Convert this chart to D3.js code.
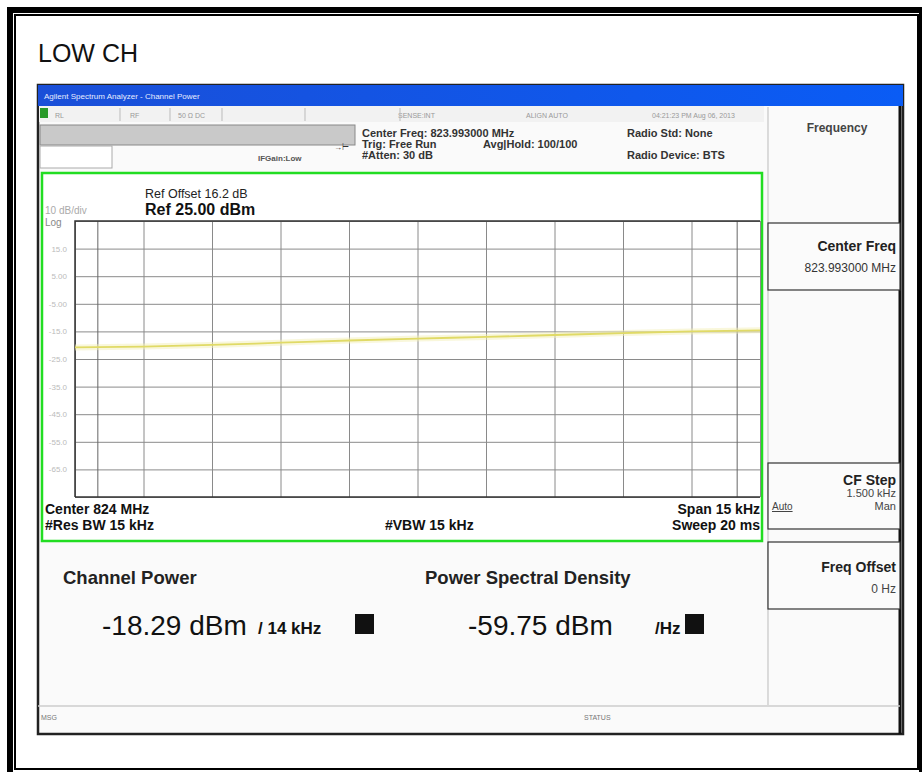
<!DOCTYPE html>
<html><head><meta charset="utf-8">
<script src="https://cdn.jsdelivr.net/npm/d3@7"></script>
<style>html,body{margin:0;padding:0;background:#fff}svg{display:block}</style>
</head><body>
<script>
// ---- data ----
const title = "LOW CH";
const refLevel = 25;          // dBm (top of graticule)
const dbPerDiv = 10;
const divisions = 10;
const spanKHz = 15;
const channelBwKHz = 14;
const yTickLabels = ["15.0","5.00","-5.00","-15.0","-25.0","-35.0","-45.0","-55.0","-65.0"];
const yTickValues = [15,5,-5,-15,-25,-35,-45,-55,-65];
const traceFreqKHz = [-7.5,-6.0,-4.5,-3.0,-1.5,0,1.5,3.0,4.5,6.0,7.5];
const traceDbm     = [-20.8,-20.5,-19.9,-19.1,-18.3,-17.6,-17.0,-16.3,-15.6,-15.0,-14.6];
const channelPower = "-18.29 dBm";
const channelPowerBw = "/ 14 kHz";
const psd = "-59.75 dBm";
const psdUnit = "/Hz";

const W = 922, H = 772;
const svg = d3.select("body").append("svg").attr("width", W).attr("height", H)
  .style("font-family", "Arial, 'Liberation Sans', sans-serif");

// outer frames
svg.append("rect").attr("x",0).attr("y",0).attr("width",W).attr("height",H).attr("fill","#fff");
svg.append("rect").attr("x",10).attr("y",10).attr("width",W-10).attr("height",H+20)
  .attr("fill","none").attr("stroke","#000").attr("stroke-width",6);
svg.append("rect").attr("x",15).attr("y",15).attr("width",W-19).attr("height",H-18)
  .attr("fill","none").attr("stroke","#000").attr("stroke-width",2);

svg.append("text").attr("x",38).attr("y",62).attr("font-size",25).attr("fill","#111").text(title);

// screenshot frame
const sx0 = 38, sx1 = 903, sy0 = 85, sy1 = 734;
svg.append("rect").attr("x",sx0).attr("y",sy0).attr("width",sx1-sx0).attr("height",sy1-sy0)
  .attr("fill","#fafafa").attr("stroke","#222").attr("stroke-width",2.5);

// title bar
const grad = svg.append("defs").append("linearGradient").attr("id","tb").attr("x1",0).attr("x2",1);
grad.append("stop").attr("offset","0%").attr("stop-color","#1a4fd8");
grad.append("stop").attr("offset","100%").attr("stop-color","#0a5cf5");
svg.append("rect").attr("x",sx0).attr("y",sy0).attr("width",sx1-sx0).attr("height",21).attr("fill","url(#tb)");
svg.append("text").attr("x",44).attr("y",99).attr("font-size",8).attr("fill","#e6ecff")
  .text("Agilent Spectrum Analyzer - Channel Power");

// status row
svg.append("rect").attr("x",sx0+1).attr("y",106).attr("width",725).attr("height",16).attr("fill","#f2f2f2");
svg.append("rect").attr("x",40).attr("y",108).attr("width",8).attr("height",10).attr("fill","#2a9a2a");
const row2 = [["RL",55],["RF",130],["50 Ω  DC",178],["SENSE:INT",398],["ALIGN AUTO",526],["04:21:23 PM Aug 06, 2013",652]];
row2.forEach(d=>svg.append("text").attr("x",d[1]).attr("y",118).attr("font-size",7).attr("fill","#999").text(d[0]));
[120,170,222,305,400].forEach(x=>svg.append("line").attr("x1",x).attr("x2",x).attr("y1",108).attr("y2",121).attr("stroke","#bbb"));

svg.append("rect").attr("x",40).attr("y",125).attr("width",315).attr("height",20).attr("fill","#c9c9c9").attr("stroke","#888");
svg.append("rect").attr("x",40).attr("y",146).attr("width",72).attr("height",22).attr("fill","#fff").attr("stroke","#aaa");
svg.append("text").attr("x",258).attr("y",161).attr("font-size",8).attr("font-weight","bold").attr("fill","#555").text("IFGain:Low");
svg.append("text").attr("x",334).attr("y",150).attr("font-size",8).attr("fill","#333").text("→⊢");
const hdr = [["Center Freq: 823.993000 MHz",362,137],["Trig: Free Run",362,148],["#Atten: 30 dB",362,159],
  ["Avg|Hold: 100/100",483,148],["Radio Std: None",627,137],["Radio Device: BTS",627,159]];
hdr.forEach(d=>svg.append("text").attr("x",d[1]).attr("y",d[2]).attr("font-size",11).attr("font-weight","bold").attr("fill","#333").text(d[0]));

// right soft-key panel
const px0 = 768, px1 = 900, tx = 896;
svg.append("line").attr("x1",px0).attr("x2",px0).attr("y1",107).attr("y2",705).attr("stroke","#bbb");
svg.append("line").attr("x1",px1).attr("x2",px1).attr("y1",106).attr("y2",734).attr("stroke","#111").attr("stroke-width",3);
svg.append("text").attr("x",837).attr("y",132).attr("text-anchor","middle").attr("font-size",12).attr("font-weight","bold").attr("fill","#444").text("Frequency");
function keyBox(y0,y1){
  svg.append("rect").attr("x",px0).attr("y",y0).attr("width",px1-px0).attr("height",y1-y0)
    .attr("fill","#fbfbfb").attr("stroke","#333").attr("stroke-width",1.2);
}
keyBox(223,290); keyBox(463,529); keyBox(542,609);
const keyTxt = [["Center Freq",tx,251,14,"bold","#222"],["823.993000 MHz",tx,272,12,"normal","#333"],
  ["CF Step",tx,485,14,"bold","#222"],["1.500 kHz",tx,497,11,"normal","#444"],["Man",tx,510,11,"normal","#444"],
  ["Freq Offset",tx,572,14,"bold","#222"],["0 Hz",tx,593,12,"normal","#444"]];
keyTxt.forEach(d=>svg.append("text").attr("x",d[1]).attr("y",d[2]).attr("text-anchor","end").attr("font-size",d[3])
  .attr("font-weight",d[4]).attr("fill",d[5]).text(d[0]));
svg.append("text").attr("x",772).attr("y",510).attr("font-size",10).attr("fill","#444").attr("text-decoration","underline").text("Auto");

// green graph panel
svg.append("rect").attr("x",42).attr("y",173).attr("width",720).attr("height",368).attr("fill","#fff")
  .attr("stroke","#22dd22").attr("stroke-width",2.5);

const gx0 = 75, gx1 = 760, gy0 = 221, gy1 = 497;
const x = d3.scaleLinear().domain([-spanKHz/2, spanKHz/2]).range([gx0, gx1]);
const y = d3.scaleLinear().domain([refLevel - dbPerDiv*divisions, refLevel]).range([gy1, gy0]);

const g = svg.append("g");
const xGrid = d3.axisBottom(x).tickValues(d3.range(divisions+1).map(i=>-spanKHz/2 + i*spanKHz/divisions))
  .tickSize(-(gy1-gy0)).tickFormat("");
g.append("g").attr("transform",`translate(0,${gy1})`).call(xGrid)
  .call(s=>s.selectAll("line").attr("stroke","#8a8a8a").attr("stroke-width",1))
  .call(s=>s.select(".domain").remove());
const yGrid = d3.axisLeft(y).tickValues(d3.range(divisions+1).map(i=>refLevel - i*dbPerDiv))
  .tickSize(-(gx1-gx0)).tickFormat("");
g.append("g").attr("transform",`translate(${gx0},0)`).call(yGrid)
  .call(s=>s.selectAll("line").attr("stroke","#8a8a8a").attr("stroke-width",1))
  .call(s=>s.select(".domain").remove());
[-channelBwKHz/2, channelBwKHz/2].forEach(f=>g.append("line").attr("x1",x(f)).attr("x2",x(f))
  .attr("y1",gy0).attr("y2",gy1).attr("stroke","#666").attr("stroke-width",1));
g.append("path").attr("d",`M${gx0},${gy1}V${gy0}H${gx1}`).attr("fill","none").attr("stroke","#333").attr("stroke-width",1.5);
g.append("line").attr("x1",gx0).attr("x2",gx1).attr("y1",gy1).attr("y2",gy1).attr("stroke","#333").attr("stroke-width",1.5);

const yAxis = d3.axisLeft(y).tickValues(yTickValues).tickSize(0).tickPadding(8)
  .tickFormat((d,i)=>yTickLabels[i]);
g.append("g").attr("transform",`translate(${gx0},0)`).call(yAxis)
  .call(s=>s.select(".domain").remove())
  .call(s=>s.selectAll("text").attr("font-size",8).attr("fill","#bbb").attr("font-family","Arial"));

const pts = traceFreqKHz.map((f,i)=>[f,traceDbm[i]]);
const line = d3.line().x(d=>x(d[0])).y(d=>y(d[1])).curve(d3.curveMonotoneX);
g.append("path").datum(pts).attr("d",line).attr("fill","none").attr("stroke","#f3f0b8").attr("stroke-width",6).attr("opacity",0.5);
g.append("path").datum(pts).attr("d",line).attr("fill","none").attr("stroke","#e0da66").attr("stroke-width",1.8);

const ann = [["Ref Offset 16.2 dB",145,198,12.5,"normal","#222","start"],["Ref 25.00 dBm",145,215,16,"bold","#111","start"],
  ["10 dB/div",45,214,10,"normal","#aaa","start"],["Log",45,226,10,"normal","#888","start"],
  ["Center  824 MHz",45,514,14,"bold","#111","start"],["#Res BW  15 kHz",45,530,14,"bold","#111","start"],
  ["#VBW  15 kHz",385,530,14,"bold","#111","start"],["Span 15 kHz",760,514,14,"bold","#111","end"],
  ["Sweep  20 ms",760,530,14,"bold","#111","end"]];
ann.forEach(d=>svg.append("text").attr("x",d[1]).attr("y",d[2]).attr("font-size",d[3]).attr("font-weight",d[4])
  .attr("fill",d[5]).attr("text-anchor",d[6]).text(d[0]));

// results area
svg.append("text").attr("x",63).attr("y",584).attr("font-size",18.5).attr("font-weight","bold").attr("fill","#222").text("Channel Power");
svg.append("text").attr("x",425).attr("y",584).attr("font-size",18.5).attr("font-weight","bold").attr("fill","#222").text("Power Spectral Density");
svg.append("text").attr("x",102).attr("y",635).attr("font-size",28).attr("fill","#111").text(channelPower);
svg.append("text").attr("x",258).attr("y",634).attr("font-size",17).attr("font-weight","bold").attr("fill","#111").text(channelPowerBw);
svg.append("rect").attr("x",355).attr("y",614).attr("width",19).attr("height",20).attr("fill","#111");
svg.append("text").attr("x",468).attr("y",635).attr("font-size",28).attr("fill","#111").text(psd);
svg.append("text").attr("x",655).attr("y",634).attr("font-size",17).attr("font-weight","bold").attr("fill","#111").text(psdUnit);
svg.append("rect").attr("x",685).attr("y",614).attr("width",19).attr("height",20).attr("fill","#111");

svg.append("line").attr("x1",sx0).attr("x2",px1).attr("y1",706).attr("y2",706).attr("stroke","#ccc").attr("stroke-width",1.5);
svg.append("text").attr("x",41).attr("y",720).attr("font-size",7).attr("fill","#777").text("MSG");
svg.append("text").attr("x",584).attr("y",720).attr("font-size",7).attr("fill","#777").text("STATUS");
</script>
</body></html>
